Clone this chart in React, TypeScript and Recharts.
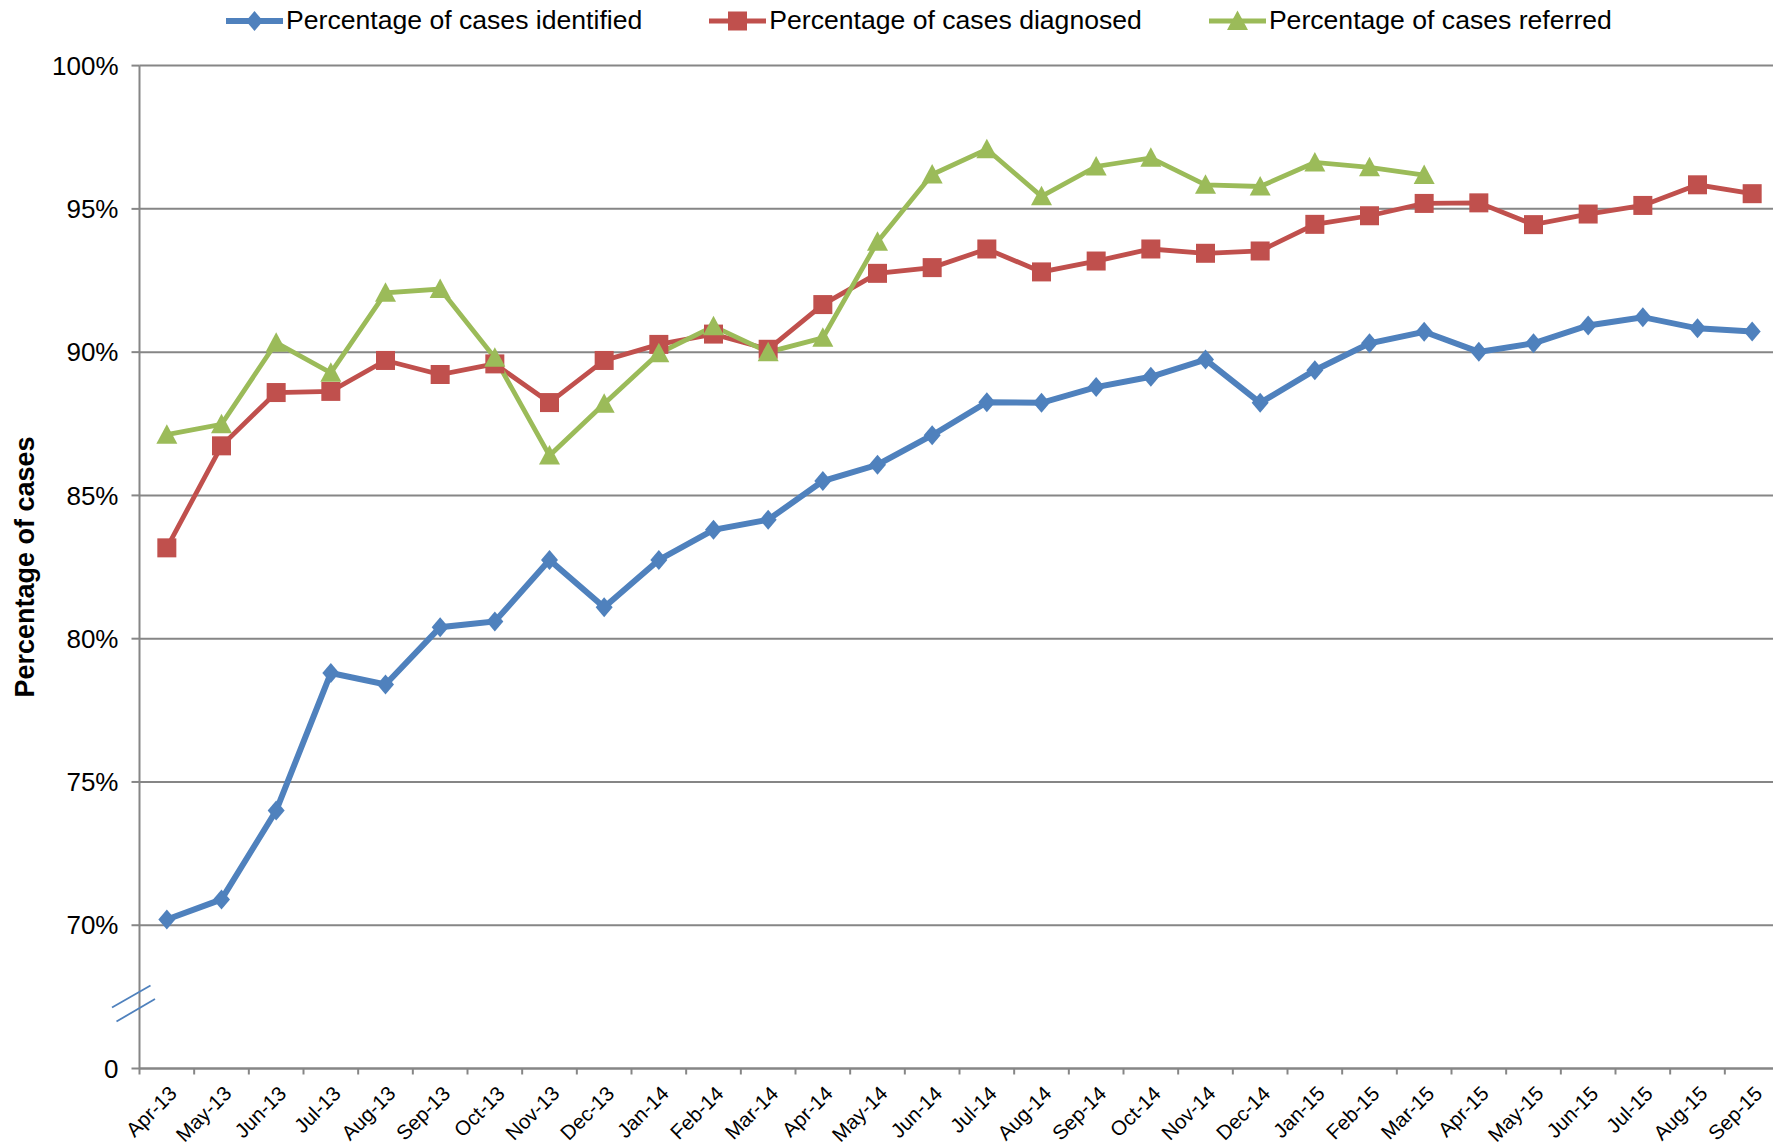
import React from "react";
import { LineChart, Line, XAxis, YAxis, CartesianGrid, Legend } from "recharts";

const months = [
    "Apr-13", "May-13", "Jun-13", "Jul-13", "Aug-13", "Sep-13", "Oct-13", "Nov-13",
    "Dec-13", "Jan-14", "Feb-14", "Mar-14", "Apr-14", "May-14", "Jun-14", "Jul-14",
    "Aug-14", "Sep-14", "Oct-14", "Nov-14", "Dec-14", "Jan-15", "Feb-15", "Mar-15",
    "Apr-15", "May-15", "Jun-15", "Jul-15", "Aug-15", "Sep-15",
];

const identified = [
    70.2, 70.9, 74.0, 78.8, 78.4, 80.4, 80.6, 82.75, 81.1, 82.75, 83.8, 84.15,
    85.5, 86.07, 87.1, 88.25, 88.23, 88.78, 89.14, 89.74, 88.23, 89.37, 90.31,
    90.71, 90.01, 90.31, 90.93, 91.22, 90.83, 90.72,
];

const diagnosed = [
    83.17, 86.73, 88.59, 88.63, 89.71, 89.22, 89.59, 88.24, 89.71, 90.27, 90.63,
    90.1, 91.66, 92.75, 92.95, 93.6, 92.8, 93.18, 93.6, 93.45, 93.53, 94.46,
    94.76, 95.19, 95.21, 94.45, 94.82, 95.12, 95.84, 95.53,
];

const referred: (number | null)[] = [
    87.12, 87.48, 90.33, 89.28, 92.07, 92.2, 89.8, 86.39, 88.2, 89.96, 90.9,
    90.0, 90.5, 93.85, 96.2, 97.08, 95.44, 96.48, 96.78, 95.84, 95.78, 96.62,
    96.45, 96.18, null, null, null, null, null, null,
];

const yTicks = [65, 70, 75, 80, 85, 90, 95, 100];

const data = months.map((m, i) => ({
    month: m,
    identified: identified[i],
    diagnosed: diagnosed[i],
    referred: referred[i],
}));

const BLUE = "#4F81BD";
const RED = "#C0504D";
const GREEN = "#9BBB59";
const GRID = "#868686";
const FONT = "'Liberation Sans', Arial, sans-serif";

// layout
const W = 1790;
const H = 1147;
const PLOT_LEFT = 139.5;
const PLOT_RIGHT = 1779.5;
const PLOT_TOP = 65.6;
const PLOT_BOTTOM = 1068.5;
const BAND = (PLOT_RIGHT - PLOT_LEFT) / months.length;

const Diamond = ({ cx, cy, color }: any) => (
    <polygon
        points={`${cx},${cy - 10} ${cx + 8.5},${cy} ${cx},${cy + 10} ${cx - 8.5},${cy}`}
        fill={color}
    />
);
const Square = ({ cx, cy, color }: any) => (
    <rect x={cx - 9.5} y={cy - 9.5} width={19} height={19} fill={color} />
);
const Triangle = ({ cx, cy, color }: any) => (
    <polygon
        points={`${cx},${cy - 10.5} ${cx + 10.5},${cy + 9} ${cx - 10.5},${cy + 9}`}
        fill={color}
    />
);

const series = [
    { key: "identified", name: "Percentage of cases identified", color: BLUE, width: 6, Marker: Diamond },
    { key: "diagnosed", name: "Percentage of cases diagnosed", color: RED, width: 4.8, Marker: Square },
    { key: "referred", name: "Percentage of cases referred", color: GREEN, width: 4.8, Marker: Triangle },
];

function LegendContent() {
    return (
        <div style={{ display: "flex", alignItems: "center", fontFamily: FONT, fontSize: 26.6, color: "#000", whiteSpace: "nowrap" }}>
            {series.map((s, i) => (
                <div key={s.key} style={{ display: "flex", alignItems: "center", marginLeft: i === 0 ? 0 : 67 }}>
                    <svg width={57} height={30}>
                        <line x1={0} y1={15} x2={57} y2={15} stroke={s.color} strokeWidth={s.width} strokeLinecap="round" />
                        <s.Marker cx={28.5} cy={15} color={s.color} />
                    </svg>
                    <span style={{ marginLeft: 3 }}>{s.name}</span>
                </div>
            ))}
        </div>
    );
}

function XTick(props: any) {
    const { x, y, payload } = props;
    const left = x - BAND / 2;
    const tx = x + 6;
    const ty = y + 21;
    return (
        <g>
            <line x1={left} y1={y} x2={left} y2={y + 6} stroke={GRID} strokeWidth={2} />
            <text
                x={tx}
                y={ty}
                transform={`rotate(-45, ${tx}, ${ty})`}
                textAnchor="end"
                dominantBaseline="central"
                fontSize={20.5}
                fontFamily={FONT}
                fill="#000"
            >
                {payload.value}
            </text>
        </g>
    );
}

export default function App() {
    return (
        <div
            style={{
                position: "absolute",
                left: 0,
                top: 0,
                width: 1773,
                height: H,
                overflow: "hidden",
                background: "#fff",
                fontFamily: FONT,
            }}
        >
            <LineChart
                width={W}
                height={H}
                data={data}
                margin={{ top: PLOT_TOP, right: W - PLOT_RIGHT, bottom: 0, left: 0 }}
            >
                <CartesianGrid vertical={false} stroke={GRID} strokeWidth={2} />
                <XAxis
                    dataKey="month"
                    interval={0}
                    height={H - PLOT_BOTTOM}
                    padding={{ left: BAND / 2, right: BAND / 2 }}
                    tickLine={false}
                    tickSize={0}
                    tickMargin={0}
                    axisLine={{ stroke: GRID, strokeWidth: 2 }}
                    tick={(p: any) => <XTick {...p} />}
                />
                <YAxis
                    type="number"
                    domain={[65, 100]}
                    ticks={yTicks}
                    interval={0}
                    width={PLOT_LEFT}
                    tickSize={8}
                    tickMargin={13}
                    stroke={GRID}
                    strokeWidth={2}
                    tick={{ fill: "#000", fontSize: 26, fontFamily: FONT }}
                    tickFormatter={(v: number) => (v === 65 ? "0" : `${v}%`)}
                    label={(p: any) => {
                        const vb = p.viewBox || {};
                        const cy = (vb.y ?? PLOT_TOP) + (vb.height ?? PLOT_BOTTOM - PLOT_TOP) / 2;
                        return (
                            <text
                                x={25}
                                y={cy}
                                transform={`rotate(-90, 25, ${cy})`}
                                textAnchor="middle"
                                dominantBaseline="central"
                                fontSize={27}
                                fontWeight="bold"
                                fontFamily={FONT}
                                fill="#000"
                            >
                                Percentage of cases
                            </text>
                        );
                    }}
                />
                <Legend
                    verticalAlign="middle"
                    align="center"
                    layout="horizontal"
                    wrapperStyle={{ top: 5, left: 226, width: "auto" }}
                    content={() => <LegendContent />}
                />
                {series.map((s) => (
                    <Line
                        key={s.key}
                        dataKey={s.key}
                        name={s.name}
                        type="linear"
                        stroke={s.color}
                        strokeWidth={s.width}
                        isAnimationActive={false}
                        connectNulls={false}
                        activeDot={false}
                        dot={(p: any) =>
                            p.cy == null || p.value == null ? (
                                <g key={`${s.key}-${p.index}`} />
                            ) : (
                                <s.Marker key={`${s.key}-${p.index}`} cx={p.cx} cy={p.cy} color={s.color} />
                            )
                        }
                    />
                ))}
            </LineChart>
            {/* axis break marks */}
            <svg
                width={1773}
                height={H}
                style={{ position: "absolute", left: 0, top: 0, pointerEvents: "none" }}
            >
                <line x1={150.5} y1={985.5} x2={112} y2={1007.5} stroke={BLUE} strokeWidth={1.8} />
                <line x1={155} y1={999} x2={116.5} y2={1021.5} stroke={BLUE} strokeWidth={1.8} />
            </svg>
        </div>
    );
}
